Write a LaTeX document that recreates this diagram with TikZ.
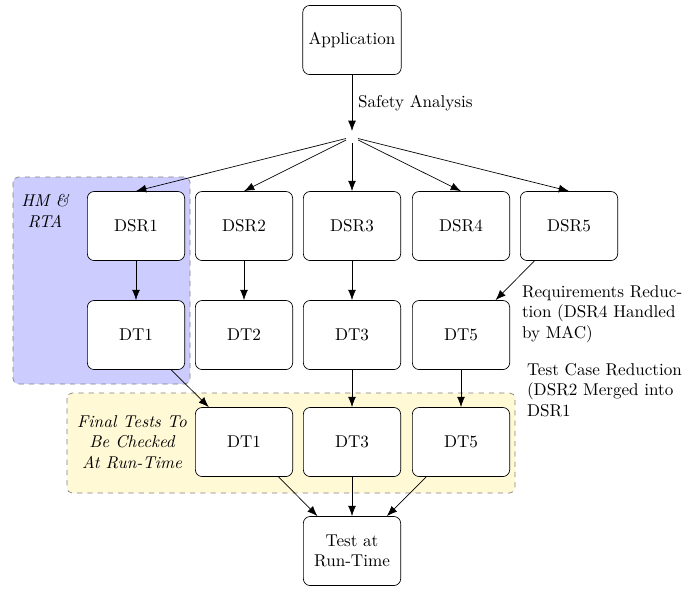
\documentclass[tikz,border=0pt]{standalone}
\usetikzlibrary{arrows.meta,positioning}

\definecolor{cream}{RGB}{255,249,214}
\tikzset{
  blk/.style={draw, rounded corners=4pt, fill=white, minimum width=2cm, minimum height=1.42cm, align=center},
  zone/.style={draw=gray, dashed, rounded corners=3pt},
  note/.style={align=left, anchor=west},
}

\begin{document}
\begin{tikzpicture}[x=0.02055cm, y=-0.02055cm, >={Latex[length=6pt,width=4.6pt]}]
        \useasboundingbox (0,0) rectangle (699,589);
        % shaded zones
        \draw[zone, fill=blue!20] (13,177) rectangle (190,384);
        \draw[zone, fill=cream] (67,393) rectangle (515,493);
        \node[align=center, font=\itshape] (hmrta) at (45,211) {HM \&\\RTA};
        \node[align=center, font=\itshape] (final) at (132,442) {Final Tests To\\Be Checked\\At Run-Time};
        % nodes
        \node[blk] (app) at (352,40) {Application};
        \node[inner sep=0.333em] (split) at (352,137) {};
        \foreach \X/\P in {1/136,2/244,3/352,4/461,5/569}
            {\node[blk] (dsr\X) at (\P,226) {DSR\X};}
        \foreach \X/\P in {1/136,2/244,3/352,5/461}
            {\node[blk] (dt\X) at (\P,335) {DT\X};}
        \foreach \X/\P in {1/244,3/352,5/461}
            {\node[blk] (fin\X) at (\P,442) {DT\X};}
        \node[blk] (test) at (352,551) {Test at\\Run-Time};
        % connectors
        \draw[->] (app) -- node[right] {Safety Analysis} (split);
        \foreach \X in {1,...,5}
            {\draw[->] (split) -- (dsr\X.north);}
        \foreach \X in {1,2,3}
            {\draw[->] (dsr\X) -- (dt\X);}
        \draw[->] (dsr5) -- (dt5);
        \draw[->] (dt1) -- (fin1);
        \draw[->] (dt3) -- (fin3);
        \draw[->] (dt5) -- (fin5);
        \foreach \X in {1,3,5}
            {\draw[->] (fin\X) -- (test);}
        \node[note] (reqred) at (516,314) {Requirements Reduc-\\tion (DSR4 Handled\\by MAC)};
        \node[note] (tcred) at (521,390) {Test Case Reduction\\(DSR2 Merged into\\DSR1};
    \end{tikzpicture}
\end{document}
